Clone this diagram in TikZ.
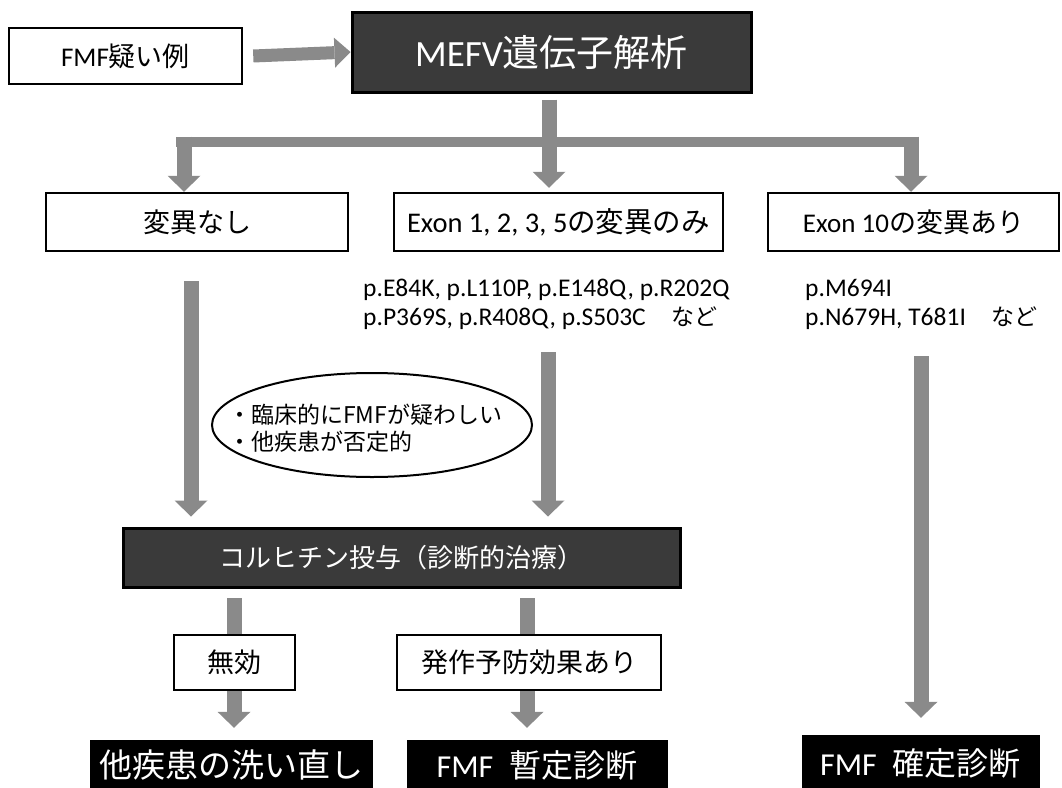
\documentclass[tikz,border=0pt]{standalone}
\usepackage{fontspec}
\setmainfont{Carlito}
\newfontfamily\jp{Noto Sans CJK JP}
\usetikzlibrary{arrows.meta,shapes.geometric}
\definecolor{arrowgray}{RGB}{138,138,138}
\definecolor{darkfill}{RGB}{58,58,58}
\begin{document}
\begin{tikzpicture}[x=1pt,y=-1pt,
  wbox/.style={draw=black, line width=2.5pt, fill=white, inner sep=0pt},
  dbox/.style={draw=black, line width=3pt, fill=darkfill, text=white, inner sep=0pt},
  bbox/.style={draw=black, fill=black, text=white, inner sep=0pt},
  fat/.style={draw=arrowgray, line width=15pt, -{Triangle[length=16pt,width=33pt,line width=0pt]}},
  bar/.style={draw=arrowgray, line width=10pt}
]
\useasboundingbox (0,0) rectangle (1062,787);

% top row
\node[wbox, minimum width=233pt, minimum height=56pt, font=\fontsize{27}{32}\selectfont] (fmf) at (125.5,56) {FMF{\jp 疑い例}};
\node[dbox, minimum width=399pt, minimum height=80pt, font=\fontsize{37}{42}\selectfont] (mefv) at (551.5,52) {MEFV{\jp 遺伝子解析}};
\draw[draw=arrowgray, line width=13pt, -{Triangle[length=16pt,width=30pt,line width=0pt]}] ([xshift=10pt]fmf.east) -- (mefv.west);

% second row
\node[wbox, minimum width=302pt, minimum height=58pt, font=\jp\fontsize{27}{32}\selectfont] (none) at (197,222) {変異なし};
\node[wbox, minimum width=329pt, minimum height=58pt, font=\fontsize{28.5}{33}\selectfont] (exon) at (558.5,222) {Exon 1, 2, 3, 5{\jp の変異のみ}};
\node[wbox, minimum width=291pt, minimum height=58pt, font=\fontsize{27}{32}\selectfont] (exten) at (913.5,222) {Exon 10{\jp の変異あり}};

% branching connectors
\coordinate (bl) at (184,141.5);
\coordinate (br) at (911,141.5);
\coordinate (cx) at (549,0);
\draw[bar] ([xshift=-8pt]bl) -- ([xshift=8pt]br);
\draw[fat] ([yshift=5pt]bl) -- (none.north -| bl);
\draw[fat] ([yshift=-6pt]mefv.south -| cx) -- ([yshift=4pt]exon.north -| cx);
\draw[fat] ([yshift=5pt]br) -- (exten.north -| br);

% mutation lists
\node[anchor=west, inner sep=0pt, align=left, font=\fontsize{25.5}{29}\selectfont] (mut1) at (363,304) {p.E84K, p.L110P, p.E148Q, p.R202Q\\p.P369S, p.R408Q, p.S503C\quad{\jp\fontsize{23}{29}\selectfont など}};
\node[anchor=west, inner sep=0pt, align=left, font=\fontsize{25.5}{29}\selectfont] (mut2) at (805,304) {p.M694I\\p.N679H, T681I\quad{\jp\fontsize{23}{29}\selectfont など}};

% ellipse condition
\node[ellipse, draw=black, line width=2pt, fill=white, minimum width=320pt, minimum height=104pt, inner sep=0pt] (cond) at (372,425) {};
\node[anchor=west, inner sep=0pt, align=left, font=\jp\fontsize{23}{27}\selectfont] (condtext) at (228,428) {・臨床的にFMFが疑わしい\\・他疾患が否定的};

% colchicine
\node[dbox, minimum width=557pt, minimum height=59pt, font=\jp\fontsize{26}{30}\selectfont] (colch) at (401.5,557.5) {コルヒチン投与（診断的治療）};
\coordinate (la) at (191,281);
\coordinate (ma) at (548,352);
\draw[fat] (la) -- ([yshift=10pt]colch.north -| la);
\draw[fat] (ma) -- ([yshift=10pt]colch.north -| ma);

% bottom results
\node[bbox, minimum width=282pt, minimum height=50pt, font=\jp\fontsize{33}{38}\selectfont] (recheck) at (231,765) {他疾患の洗い直し};
\node[bbox, minimum width=260pt, minimum height=50pt, font=\fontsize{32}{37}\selectfont] (tent) at (537,765) {FMF\hspace{0.5em}{\jp 暫定診断}};
\node[bbox, minimum width=237pt, minimum height=56pt, font=\fontsize{32}{37}\selectfont] (conf) at (920.5,763) {FMF\hspace{0.5em}{\jp 確定診断}};

\coordinate (ca) at (234,598);
\coordinate (cb) at (527,598);
\coordinate (ra) at (921,356);
\draw[fat] (ca) -- ([yshift=12pt]recheck.north -| ca);
\draw[fat] (cb) -- ([yshift=12pt]tent.north -| cb);
\draw[fat] (ra) -- ([yshift=17pt]conf.north -| ra);

% response boxes (drawn over the shafts)
\node[wbox, minimum width=121pt, minimum height=55pt, font=\jp\fontsize{27}{32}\selectfont] (noeff) at (234.5,662.5) {無効};
\node[wbox, minimum width=264pt, minimum height=55pt, font=\jp\fontsize{27}{32}\selectfont] (eff) at (529,662.5) {発作予防効果あり};
\end{tikzpicture}
\end{document}
